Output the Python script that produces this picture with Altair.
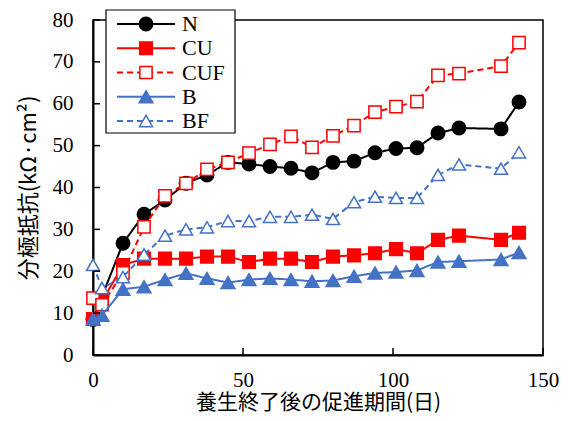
import altair as alt
import pandas as pd

days = [0, 3, 10, 17, 24, 31, 38, 45, 52, 59, 66, 73, 80, 87, 94, 101, 108, 115, 122, 136, 142]
N = [8.5, 14, 26.7, 33.6, 37, 41, 43, 46, 45.6, 45, 44.6, 43.5, 46, 46.3, 48.3, 49.3, 49.5, 53, 54.2, 54, 60.4]
CU = [8.6, 12.8, 21.5, 23, 23, 23, 23.5, 23.5, 22.2, 23, 23, 22.2, 23.5, 23.8, 24.3, 25.3, 24.3, 27.5, 28.5, 27.5, 29.2]
CUF = [13.6, 12, 19.6, 30.6, 38, 41, 44.3, 46, 48.2, 50.3, 52.2, 49.6, 52.3, 54.8, 58, 59.3, 60.5, 66.8, 67.2, 69, 74.6]
B = [8.6, 9.5, 15.7, 16.3, 18, 19.5, 18.3, 17.3, 18, 18.3, 18, 17.6, 17.8, 18.8, 19.6, 19.8, 20.2, 22.2, 22.4, 22.8, 24.5]
BF = [21.5, 16, 18.6, 24, 28.5, 30, 30.5, 32, 32, 33, 33, 33.5, 32.5, 36.5, 37.8, 37.5, 37.5, 43, 45.5, 44.5, 48.4]

series = ["N", "CU", "CUF", "B", "BF"]
values = {"N": N, "CU": CU, "CUF": CUF, "B": B, "BF": BF}
colors = {"N": "#000000", "CU": "#FF0000", "CUF": "#FF0000", "B": "#4472C4", "BF": "#4472C4"}
dashes = {"N": [1, 0], "CU": [1, 0], "CUF": [6, 4], "B": [1, 0], "BF": [6, 4]}
shapes = {"N": "circle", "CU": "square", "CUF": "square", "B": "triangle-up", "BF": "triangle-up"}
filled = {"N": True, "CU": True, "CUF": False, "B": True, "BF": False}
sizes = {"N": 180, "CU": 160, "CUF": 150, "B": 190, "BF": 170}

x_ticks = [0, 50, 100, 150]
y_ticks = [0, 10, 20, 30, 40, 50, 60, 70, 80]

W, H = 450, 335
LAT = "Liberation Serif"
CJK = "Noto Sans CJK JP"

rows = []
for s in series:
    for d, v in zip(days, values[s]):
        rows.append({"day": d, "value": v, "series": s})
df = pd.DataFrame(rows)

xs = alt.Scale(domain=[0, 150], nice=False, zero=False)
ys = alt.Scale(domain=[0, 80], nice=False)

x_axis = alt.Axis(values=x_ticks, title="養生終了後の促進期間(日)", ticks=False, grid=False,
                  labelPadding=14, labelFlush=False, labelFont=LAT, labelFontSize=21,
                  labelColor="black", titleFont=CJK, titleFontSize=21, titleFontWeight="normal",
                  titleColor="black", titleBaseline="middle", titleY=47,
                  domainColor="black", domainWidth=2)
y_axis = alt.Axis(values=y_ticks, title="分極抵抗(kΩ·cm²)", ticks=False, grid=False,
                  labelPadding=20, labelFlush=False, labelFont=LAT, labelFontSize=21,
                  labelColor="black", titleFont=CJK, titleFontSize=22, titleFontWeight="normal",
                  titleColor="black", titlePadding=12,
                  domainColor="black", domainWidth=2)

base = alt.Chart(df)
layers = []
for s in series:
    sub = base.transform_filter(alt.datum.series == s)
    enc_x = alt.X("day:Q", scale=xs, axis=x_axis)
    enc_y = alt.Y("value:Q", scale=ys, axis=y_axis)
    line = sub.mark_line(color=colors[s], strokeWidth=2, strokeDash=dashes[s]).encode(x=enc_x, y=enc_y)
    pt = sub.mark_point(shape=shapes[s], size=sizes[s], filled=True,
                        fill=colors[s] if filled[s] else "white",
                        stroke=colors[s], strokeWidth=1.5, opacity=1).encode(x=enc_x, y=enc_y)
    layers += [line, pt]

# inward ticks
xt = alt.Chart(pd.DataFrame({"t": x_ticks})).mark_rule(color="black", strokeWidth=1.5).encode(
    x=alt.X("t:Q", scale=xs, axis=x_axis), y=alt.value(H), y2=alt.value(H - 7))
yt = alt.Chart(pd.DataFrame({"t": y_ticks})).mark_rule(color="black", strokeWidth=1.5).encode(
    y=alt.Y("t:Q", scale=ys, axis=y_axis), x=alt.value(0), x2=alt.value(7))

main = alt.layer(*layers, xt, yt)

# legend
leg_df = pd.DataFrame({"series": series})
ly = alt.Scale(type="point", domain=series, range=[4, 101], padding=0)
box = alt.Chart(pd.DataFrame({"a": [0]})).mark_rect(fill="white", stroke="black", strokeWidth=1.2).encode(
    x=alt.value(13), x2=alt.value(142), y=alt.value(-10), y2=alt.value(113))
leg_layers = [box]
for s in series:
    sub = alt.Chart(leg_df).transform_filter(alt.datum.series == s)
    leg_layers.append(sub.mark_rule(color=colors[s], strokeWidth=2, strokeDash=dashes[s]).encode(
        y=alt.Y("series:N", scale=ly, axis=None), x=alt.value(24), x2=alt.value(82)))
    leg_layers.append(sub.mark_point(shape=shapes[s], size=sizes[s], filled=True,
                                     fill=colors[s] if filled[s] else "white",
                                     stroke=colors[s], strokeWidth=1.5, opacity=1).encode(
        y=alt.Y("series:N", scale=ly, axis=None), x=alt.value(53)))
leg_text = alt.Chart(leg_df).mark_text(align="left", baseline="middle", font=LAT,
                                       fontSize=22, color="black").encode(
    y=alt.Y("series:N", scale=ly, axis=None), x=alt.value(89), text="series:N")
leg_layers.append(leg_text)
legend = alt.layer(*leg_layers)

chart = alt.layer(main, legend).resolve_scale(y="independent").properties(
    width=W, height=H,
    autosize=alt.AutoSizeParams(type="none"),
    padding={"left": 85, "top": 12, "right": 20, "bottom": 58},
).configure_view(stroke="black", strokeWidth=1.5)

chart.save("out.html", embed_options={"renderer": "svg", "actions": False})
